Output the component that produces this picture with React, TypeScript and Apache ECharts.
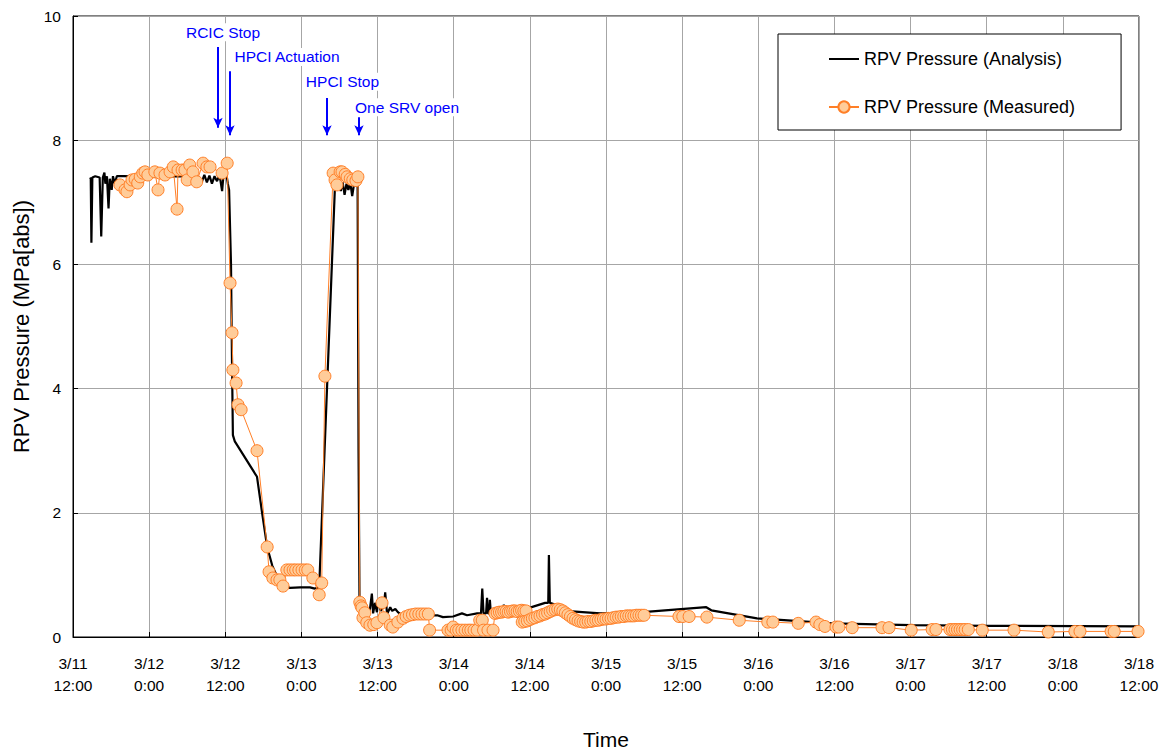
import React, { useEffect, useRef } from "react";
import * as echarts from "echarts";

// x values: hours elapsed since 3/11 12:00 ; y values: MPa[abs]
const xTickLabels = [
  "3/11\n12:00", "3/12\n0:00", "3/12\n12:00", "3/13\n0:00", "3/13\n12:00",
  "3/14\n0:00", "3/14\n12:00", "3/15\n0:00", "3/15\n12:00", "3/16\n0:00",
  "3/16\n12:00", "3/17\n0:00", "3/17\n12:00", "3/18\n0:00", "3/18\n12:00",
];

const analysisData: [number, number][] = [
  [2.7, 7.4], [2.8, 7.38], [2.9, 6.35], [3.05, 7.4], [3.5, 7.42], [4.2, 7.4], [4.45, 6.45],
  [4.7, 7.4], [4.95, 7.48], [5.1, 7.3], [5.35, 7.42], [5.6, 6.9], [5.8, 7.38], [6.1, 7.2],
  [6.3, 7.42], [6.6, 7.3], [6.9, 7.42], [8, 7.42], [12, 7.41], [16, 7.42], [19.8, 7.41],
  [20.3, 7.33], [20.7, 7.44], [21.1, 7.32], [21.5, 7.43], [21.9, 7.3], [22.3, 7.42],
  [22.7, 7.34], [23.1, 7.44], [23.5, 7.18], [23.7, 7.42], [24.1, 7.5], [24.4, 7.3],
  [24.6, 7.2], [24.9, 6.0], [25.05, 4.5], [25.2, 3.25], [25.5, 3.15], [29.0, 2.58],
  [29.8, 2.0], [30.6, 1.45], [31.4, 1.15], [32.15, 0.98], [33.1, 0.85], [34.2, 0.79],
  [35.8, 0.8], [37.35, 0.8], [38.1, 0.78], [38.8, 0.8], [41.3, 7.3], [41.6, 7.22],
  [41.9, 7.35], [42.2, 7.18], [42.5, 7.32], [42.8, 7.12], [43.1, 7.3], [43.4, 7.2],
  [43.7, 7.32], [44.0, 7.1], [44.3, 7.3], [44.6, 7.38], [44.85, 7.35], [45.0, 3.0],
  [45.15, 0.62], [45.5, 0.4], [45.8, 0.5], [46.3, 0.35], [46.8, 0.45], [47.1, 0.7],
  [47.3, 0.38], [47.6, 0.55], [47.9, 0.4], [48.1, 0.6], [48.5, 0.42], [49.0, 0.5],
  [49.2, 0.72], [49.5, 0.37], [50.0, 0.48], [50.3, 0.42], [50.8, 0.45], [51.2, 0.4],
  [51.85, 0.35], [54.0, 0.34], [57.4, 0.35], [58.3, 0.32], [59.9, 0.33], [61.3, 0.38],
  [62.1, 0.35], [63.7, 0.38], [64.3, 0.38], [64.5, 0.78], [64.7, 0.38], [65.1, 0.38],
  [65.25, 0.63], [65.4, 0.38], [65.6, 0.38], [65.7, 0.6], [65.85, 0.38], [66.2, 0.4],
  [67.7, 0.4], [67.9, 0.52], [68.1, 0.42], [70.4, 0.42], [74.4, 0.55], [74.9, 0.55],
  [75.0, 1.32], [75.15, 0.55], [76.1, 0.52], [77.5, 0.42], [83.1, 0.38], [89.8, 0.4],
  [99.8, 0.48], [100.6, 0.43], [107.8, 0.3], [119.6, 0.22], [132.1, 0.19], [144.1, 0.18],
  [168, 0.17],
];

const measuredData: [number, number][] = [
  [7.4, 7.28], [8.2, 7.2], [8.5, 7.17], [9.0, 7.28], [9.3, 7.36], [9.8, 7.37], [10.2, 7.31],
  [10.6, 7.41], [11.0, 7.47], [11.35, 7.49], [11.8, 7.44], [12.9, 7.49], [13.4, 7.2],
  [13.7, 7.47], [14.5, 7.44], [15.3, 7.49], [15.8, 7.57], [16.4, 6.89], [16.55, 7.52],
  [17.2, 7.52], [17.65, 7.52], [18.0, 7.36], [18.4, 7.6], [18.9, 7.49], [19.5, 7.33],
  [20.5, 7.63], [21.1, 7.57], [21.6, 7.57], [23.5, 7.47], [24.3, 7.63],
  [24.75, 5.7], [25.06, 4.9], [25.2, 4.3], [25.7, 4.09], [26.0, 3.74], [26.5, 3.66],
  [29.0, 3.0], [30.6, 1.45], [30.9, 1.05], [31.5, 0.95], [32.15, 0.92], [32.6, 0.92],
  [33.1, 0.82], [33.7, 1.08], [34.2, 1.08], [34.7, 1.08], [35.1, 1.08], [35.6, 1.08],
  [36.1, 1.08], [36.6, 1.08], [37.0, 1.08], [37.8, 0.95], [38.8, 0.68], [39.2, 0.87],
  [39.7, 4.2],
  [41.0, 7.47], [41.3, 7.36], [41.6, 7.28], [42.1, 7.49], [42.4, 7.49], [42.9, 7.45],
  [43.2, 7.41], [43.7, 7.38], [44.1, 7.36], [44.6, 7.35], [44.9, 7.41],
  [45.2, 0.56], [45.4, 0.5], [45.55, 0.47], [45.7, 0.31], [46.0, 0.39], [46.3, 0.23],
  [46.8, 0.19], [47.4, 0.2], [47.9, 0.23], [48.7, 0.55], [49.0, 0.31], [50.0, 0.19],
  [50.4, 0.16], [51.2, 0.24], [52.0, 0.3], [52.5, 0.33], [53.0, 0.35], [53.5, 0.36],
  [54.0, 0.37], [54.5, 0.37], [55.0, 0.37], [55.5, 0.37], [56.0, 0.37], [56.2, 0.11],
  [59.1, 0.11], [59.6, 0.11], [59.9, 0.16], [60.4, 0.11], [60.8, 0.11], [61.3, 0.11],
  [61.8, 0.11], [62.3, 0.11], [62.7, 0.11], [63.2, 0.11], [63.7, 0.11], [64.1, 0.27],
  [64.5, 0.27], [64.7, 0.11], [65.4, 0.11], [66.2, 0.11],
  [66.5, 0.38], [66.85, 0.39], [67.2, 0.4], [67.55, 0.4], [67.9, 0.41], [68.25, 0.41],
  [68.6, 0.4], [68.95, 0.41], [69.3, 0.42], [69.65, 0.42], [70.0, 0.41], [70.35, 0.42],
  [70.7, 0.43], [71.05, 0.42], [71.4, 0.42],
  [70.8, 0.24], [71.2, 0.25], [71.6, 0.26], [72.0, 0.28], [72.4, 0.3], [72.8, 0.31],
  [73.2, 0.33], [73.6, 0.34], [74.0, 0.36], [74.4, 0.37], [74.8, 0.39], [75.2, 0.41],
  [75.6, 0.43], [76.0, 0.44], [76.4, 0.45], [76.8, 0.44], [77.2, 0.42], [77.6, 0.39],
  [78.0, 0.36], [78.4, 0.33], [78.8, 0.3], [79.2, 0.28], [79.6, 0.26], [80.0, 0.25],
  [80.4, 0.24], [80.8, 0.24], [81.2, 0.25], [81.6, 0.25], [82.0, 0.26], [82.4, 0.27],
  [82.8, 0.27], [83.2, 0.28], [83.6, 0.29], [84.0, 0.29], [84.4, 0.3], [84.8, 0.3],
  [85.2, 0.31], [85.6, 0.32], [86.0, 0.32], [86.4, 0.33], [86.8, 0.33], [87.2, 0.34],
  [87.6, 0.34], [88.0, 0.34], [88.4, 0.34], [88.8, 0.35], [89.2, 0.35], [89.6, 0.35],
  [90.0, 0.35],
  [95.5, 0.33], [96.1, 0.33], [97.1, 0.33], [99.9, 0.32], [105.0, 0.27], [109.5, 0.24],
  [110.3, 0.24], [114.3, 0.22], [117.1, 0.24], [117.7, 0.2], [118.5, 0.17], [120.25, 0.16],
  [120.7, 0.16], [122.8, 0.15], [127.5, 0.15], [128.6, 0.15], [132.1, 0.11], [135.4, 0.12],
  [136.0, 0.12], [138.2, 0.12], [138.6, 0.12], [139.0, 0.12], [139.4, 0.12], [139.8, 0.12],
  [140.2, 0.12], [140.6, 0.12], [141.1, 0.12], [143.3, 0.11], [148.3, 0.11], [153.7, 0.08],
  [157.9, 0.09], [158.7, 0.09], [163.6, 0.09], [164.1, 0.09], [167.85, 0.09],
];

// annotation events: arrow at time t from p1 down to p2, label centred at (lt, lp)
const eventNames = ["RCIC Stop", "HPCI Actuation", "HPCI Stop", "One SRV open"];
const eventT = [22.85, 24.74, 40.03, 45.07];
const eventFrom = [9.5, 9.11, 8.68, 8.37];
const eventTo = [8.2, 8.08, 8.08, 8.08];
const eventLabelT = [23.64, 33.73, 42.47, 52.64];
const eventLabelP = [9.74, 9.34, 8.94, 8.53];

const FONT = "'Liberation Sans', Arial, sans-serif";

export default function App() {
  const ref = useRef<HTMLDivElement>(null);
  useEffect(() => {
    document.body.style.margin = "0";
    if (!ref.current) return;
    const chart = echarts.init(ref.current, undefined, { renderer: "svg" });
    const orange = "#FF7F27";
    chart.setOption({
      animation: false,
      textStyle: { fontFamily: FONT, color: "#000" },
      grid: {
        left: 73, right: 32, top: 16, bottom: 117,
        outerBoundsMode: "none",
        containLabel: false,
        show: true, borderColor: "#000", borderWidth: 1, backgroundColor: "transparent",
      },
      legend: {
        orient: "vertical",
        left: 778,
        top: 34,
        padding: [16, 46, 14, 50],
        itemGap: 30,
        itemWidth: 30,
        itemHeight: 14,
        backgroundColor: "#fff",
        borderColor: "#000",
        borderWidth: 1,
        textStyle: { fontSize: 18, color: "#000", fontFamily: FONT },
        data: [
          { name: "RPV Pressure (Analysis)", icon: "path://M0,0H30V2H0Z" },
          "RPV Pressure (Measured)",
        ],
      },
      xAxis: {
        type: "value",
        min: 0,
        max: 168,
        interval: 12,
        name: "Time",
        nameLocation: "middle",
        nameGap: 92,
        nameTextStyle: { fontSize: 21, color: "#000", fontFamily: FONT },
        axisLine: { show: true, lineStyle: { color: "#000", width: 1 } },
        axisTick: { show: true, inside: true, length: 5, lineStyle: { color: "#000" } },
        axisLabel: {
          fontSize: 15.5,
          color: "#000",
          fontFamily: FONT,
          lineHeight: 22,
          margin: 15,
          formatter: (v: number) => xTickLabels[Math.round(v / 12)] ?? "",
        },
        splitLine: { show: true, lineStyle: { color: "#a6a6a6", width: 1 } },
      },
      yAxis: {
        type: "value",
        min: 0,
        max: 10,
        interval: 2,
        name: "RPV Pressure (MPa[abs])",
        nameLocation: "middle",
        nameGap: 41,
        nameTextStyle: { fontSize: 22, color: "#000", fontFamily: FONT },
        axisLine: { show: true, lineStyle: { color: "#000", width: 1 } },
        axisTick: { show: true, inside: true, length: 5, lineStyle: { color: "#000" } },
        axisLabel: { fontSize: 15.5, color: "#000", fontFamily: FONT, margin: 12 },
        splitLine: { show: true, lineStyle: { color: "#a6a6a6", width: 1 } },
      },
      series: [
        {
          name: "RPV Pressure (Analysis)",
          type: "line",
          data: analysisData,
          symbol: "none",
          color: "#000",
          lineStyle: { color: "#000", width: 2.2 },
          z: 2,
          markLine: {
            silent: true,
            symbol: ["none", "arrow"],
            symbolSize: [7, 10],
            lineStyle: { color: "#0000FF", width: 2, type: "solid" },
            label: { show: false },
            data: eventT.map((t, i) => [
              { coord: [t, eventFrom[i]] },
              { coord: [t, eventTo[i]] },
            ]),
          },
          markPoint: {
            silent: true,
            symbol: "rect",
            symbolSize: 0,
            label: {
              show: true,
              position: "inside",
              color: "#0000FF",
              fontSize: 15.5,
              fontFamily: FONT,
              backgroundColor: "#fff",
              padding: [1, 1],
              formatter: (p: any) => p.name,
            },
            data: eventNames.map((n, i) => ({ name: n, coord: [eventLabelT[i], eventLabelP[i]] })),
          },
        },
        {
          name: "RPV Pressure (Measured)",
          type: "line",
          data: measuredData,
          symbol: "circle",
          symbolSize: 12,
          showSymbol: true,
          showAllSymbol: true,
          color: "#FFCC99",
          lineStyle: { color: orange, width: 1 },
          itemStyle: { color: "#FFCC99", borderColor: orange, borderWidth: 1 },
          z: 3,
        },
      ],
    });
    return () => chart.dispose();
  }, []);
  return (
    <div
      ref={ref}
      style={{ position: "absolute", left: 0, top: 0, width: 1171, height: 754 }}
    />
  );
}
